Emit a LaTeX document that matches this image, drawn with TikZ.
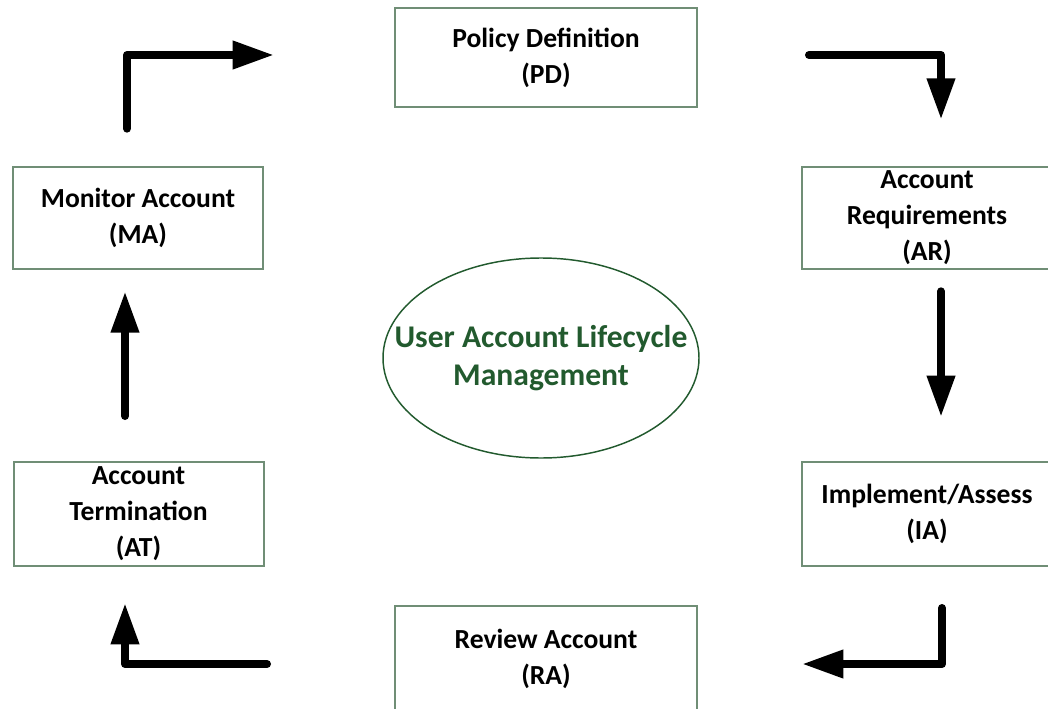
\documentclass[tikz,border=0pt]{standalone}
\usepackage{fontspec}
\setmainfont{Carlito}
\usepackage{tikz}
\usetikzlibrary{positioning,shapes,arrows.meta,calc}
\definecolor{boxgreen}{RGB}{112,142,118}
\definecolor{darkgreen}{RGB}{34,90,46}

\begin{document}
\begin{tikzpicture}
 	[x=0.75pt, y=0.75pt,
 	stage/.style={rectangle,draw=boxgreen,line width=1.5pt,fill=white,align=center,inner sep=0pt,font=\fontsize{20.7}{27}\selectfont\bfseries,minimum width=187.5pt,minimum height=77pt},
 	wide/.style={minimum width=226.5pt},
 	hub/.style={text=darkgreen,align=center,inner sep=0pt,font=\fontsize{23.7}{28.5}\selectfont\bfseries},
 	rim/.style={draw=darkgreen,line width=1.1pt},
 	flow/.style={line width=6pt,line cap=round,line join=round,-{Triangle[length=31pt,width=20pt]}}]
 \useasboundingbox (0,0) rectangle (1048,708);
 \clip (0,0) rectangle (1048,708);
 \node (pd) [stage,wide,minimum height=74pt] at (546,650.5) {Policy Definition\\(PD)};
 \node (ar) [stage] at (927,490) {Account\\Requirements\\(AR)};
 \node (ia) [stage,minimum height=78pt] at (927,194) {Implement/Assess\\(IA)};
 \node (ra) [stage,wide,minimum height=79.5pt] at (546,49) {Review Account\\(RA)};
 \node (at) [stage,minimum height=78pt] at (138.5,194) {Account\\Termination\\(AT)};
 \node (ma) [stage] at (138,490) {Monitor Account\\(MA)};
 \node (ulm) [hub] at (541,350) {User Account Lifecycle\\Management};
 \draw[rim] (541,350) ellipse [x radius=118.5pt, y radius=75pt];
 \draw[flow] ($(ma.north)+(-11,37)$) |- ($(pd.west)+(-120,2.5)$);
 \draw[flow] ($(pd.east)+(111,2.5)$) -| ($(ar.north)+(14,46)$);
 \draw[flow] ($(ar.south)+(14,-21)$) -- ($(ia.north)+(14,44)$);
 \draw[flow] ($(ia.south)+(15,-41)$) |- ($(ra.east)+(104,-5)$);
 \draw[flow] ($(ra.west)+(-127,-5)$) -| ($(at.south)+(-13.5,-36)$);
 \draw[flow] ($(at.north)+(-13.5,45)$) -- ($(ma.south)+(-13,-21)$);
\end{tikzpicture}
\end{document}
